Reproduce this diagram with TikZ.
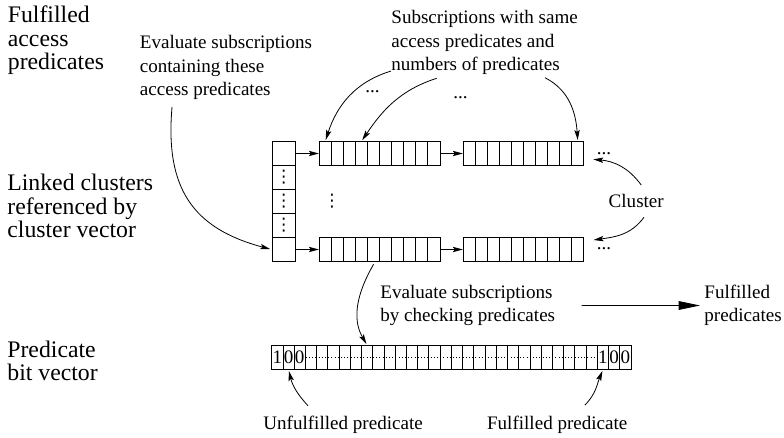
\documentclass[tikz,border=0pt]{standalone}
\usepackage{fontspec}
\setmainfont{Liberation Serif}
\newfontfamily\symfont{DejaVu Sans}
\usetikzlibrary{arrows.meta,positioning}

\begin{document}
\begin{tikzpicture}[x=0.75pt,y=0.75pt,line width=0.6pt,on grid,
>={Stealth[length=7.5pt,width=4pt,inset=1.5pt]}]
\tikzset{vcell/.style={draw,inner sep=0pt,minimum width=17.8pt,minimum height=18pt}}
\tikzset{ccell/.style={draw,inner sep=0pt,minimum width=9.05pt,minimum height=17.7pt}}
\tikzset{bcell/.style={draw,inner sep=0pt,minimum width=8.42pt,minimum height=17.7pt}}
\tikzset{txt/.style={inner sep=0pt,anchor=north west,align=left,font=\fontsize{14.3}{17.5}\selectfont}}
\tikzset{side/.style={txt,font=\fontsize{17.8}{17.5}\selectfont}}
\tikzset{dots/.style={inner sep=0pt,anchor=base west,font=\fontsize{14.3}{17.5}\selectfont}}
\tikzset{vdot/.style={inner sep=0pt,font=\symfont\fontsize{13}{15}\selectfont}}
\tikzset{bit/.style={inner sep=0pt,font=\fontsize{14.3}{17.5}\selectfont}}
\useasboundingbox (0,0) rectangle (784,437);
  \node[vcell]          (V1)  at (283.8,283.5)      {};
  \node[vcell]          (V2)  [below=18pt of V1]    {};
  \node[vcell]          (V3)  [below=18pt of V2]    {};
  \node[vcell]          (V4)  [below=18pt of V3]    {};
  \node[vcell]          (V5)  [below=18pt of V4]    {};
  \node[ccell]          (TA1) [right=31.1pt of V1]  {};
\foreach \i [count=\j from 2] in {1,...,9}
  \node[ccell]          (TA\j) [right=9.05pt of TA\i] {};
  \node[ccell]          (TB1) [right=26.5pt of TA10] {};
\foreach \i [count=\j from 2] in {1,...,9}
  \node[ccell]          (TB\j) [right=9.05pt of TB\i] {};
  \node[ccell]          (BA1) [right=31.1pt of V5]  {};
\foreach \i [count=\j from 2] in {1,...,9}
  \node[ccell]          (BA\j) [right=9.05pt of BA\i] {};
  \node[ccell]          (BB1) [right=26.5pt of BA10] {};
\foreach \i [count=\j from 2] in {1,...,9}
  \node[ccell]          (BB\j) [right=9.05pt of BB\i] {};
  \node[bcell]          (P1)  at (277.3,79.5)       {};
\foreach \i [count=\j from 2] in {1,...,31}
  \node[bcell]          (P\j) [right=8.42pt of P\i] {};
\draw[line width=0.8pt,dash pattern=on 0.6pt off 1.8pt] (P3.east) -- (P30.west);
\foreach \i/\b in {1/1,2/0,3/0,30/1,31/0,32/0}
  \node[bit]            (D\i) at (P\i)              {\b};
  \node[vdot]           (E2)  at (V2)               {⋮};
  \node[vdot]           (E3)  at (V3)               {⋮};
  \node[vdot]           (E4)  at (V4)               {⋮};
  \node[vdot]           (Emid) at (332,236)         {⋮};
  \node[dots]           (Ha)  at (365,345)          {...};
  \node[dots]           (Hb)  at (453,339)          {...};
  \node[dots]           (Rt)  at (596.5,282.5)      {...};
  \node[dots]           (Rb)  at (596.5,187.7)      {...};
  \node[side]           (Lacc)  at (7.5,431.3)      {Fulfilled\\access\\predicates};
  \node[side]           (Llink) at (7,263)          {Linked clusters\\referenced by\\cluster vector};
  \node[side]           (Lbit)  at (7,96.3)         {Predicate\\bit vector};
  \node[txt]            (Eacc)  at (139.5,401.7)    {Evaluate subscriptions\\containing these\\access predicates};
  \node[txt]            (Ssame) at (391,426.7)      {Subscriptions with same\\access predicates and\\numbers of predicates};
  \node[txt]            (Clu)   at (608.3,243.3)    {Cluster};
  \node[txt]            (Echk)  at (380,152.3)      {Evaluate subscriptions\\by checking predicates};
  \node[txt]            (Fpred) at (704,152.3)      {Fulfilled\\predicates};
  \node[txt]            (Unf)   at (263,21)         {Unfulfilled predicate};
  \node[txt]            (Ful)   at (486.7,21)       {Fulfilled predicate};
\tikzset{link/.style={->}}
\path (V1)    edge [link]  (TA1)
      (TA10)  edge [link]  (TB1)
      (V5)    edge [link]  (BA1)
      (BA10)  edge [link]  (BB1);
\tikzset{pointer/.style={->,shorten >=1pt}}
\draw[pointer] ([yshift=3pt]Ssame.south west) to[out=197,in=72] (TA1.north);
\draw[pointer] ([xshift=34.3pt,yshift=-2.4pt]Ssame.south west) to[out=198,in=56] (TA4.north);
\draw[pointer] ([xshift=115.5pt,yshift=-2pt]Ssame.south west) to[out=-27,in=94] (TB10.north);
\draw[pointer] ([xshift=24.4pt,yshift=-5.2pt]Eacc.south west) to[out=-95,in=165,looseness=1.2] (V5.west);
\draw[pointer] ([yshift=-2pt]BA5.south) to[out=240,in=120] (P9.north);
\draw[pointer] ([xshift=3.75pt,yshift=6.5pt]Clu.north) to[out=126,in=-5] ([xshift=5.8pt,yshift=-4.3pt]TB10.east);
\draw[pointer] ([xshift=5.8pt,yshift=-7pt]Clu.south) to[out=234,in=8] ([xshift=6pt,yshift=7pt]BB10.east);
\draw[pointer] ([xshift=33.75pt,yshift=7.7pt]Unf.north west) to[out=133,in=-76] (P2.south);
\draw[pointer] ([xshift=73.7pt,yshift=8.25pt]Ful.north west) to[out=45,in=248] (P30.south);
\draw[-{Triangle[length=16pt,width=6.5pt]},shorten >=3pt] ([xshift=19.5pt]Echk.east) -- (Fpred.west);
\end{tikzpicture}
\end{document}
